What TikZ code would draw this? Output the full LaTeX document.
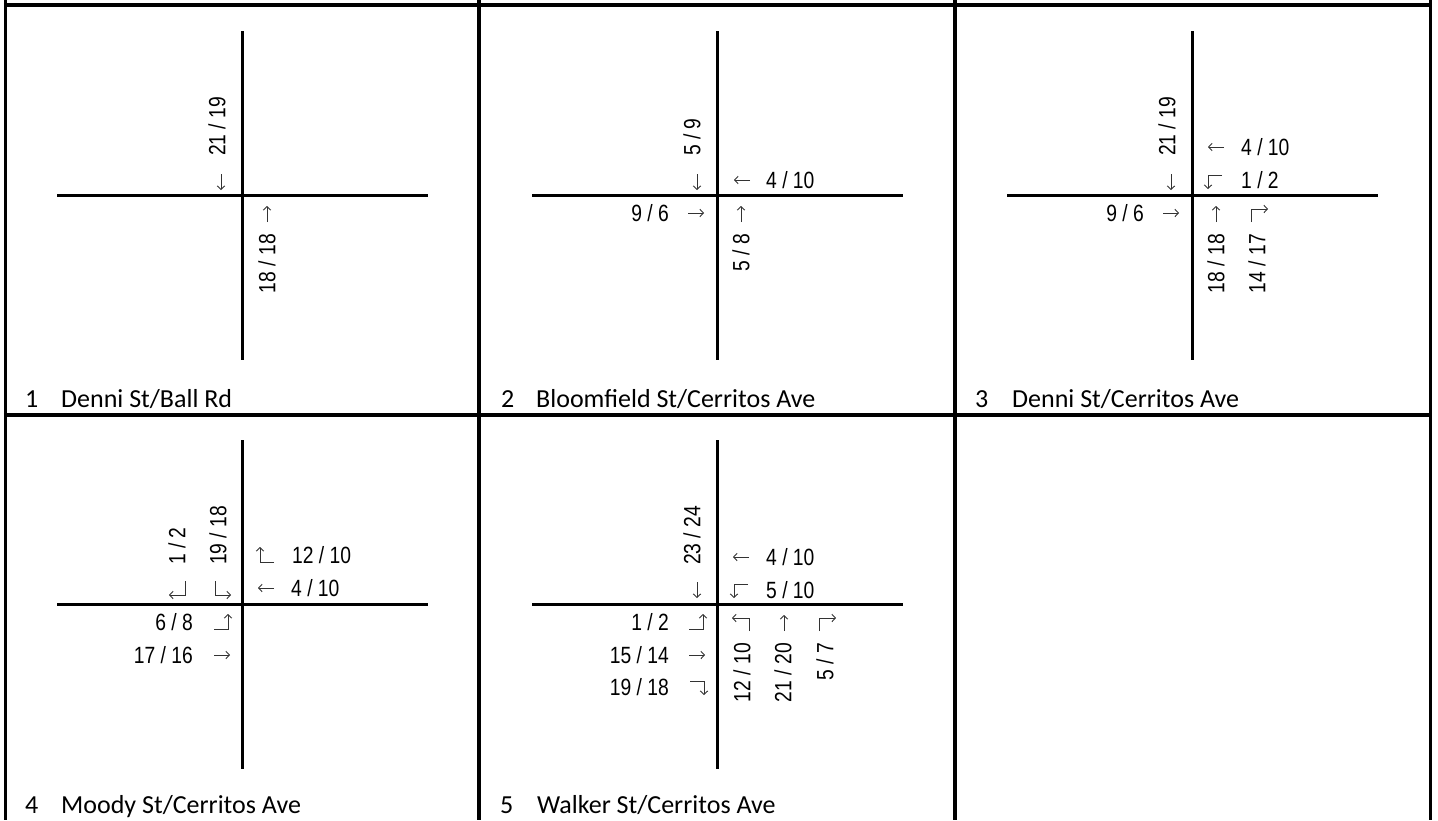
\documentclass[tikz,border=0pt]{standalone}
\usepackage{fontspec}
\usetikzlibrary{arrows.meta}
\newfontfamily\labf[FakeStretch=0.82]{Liberation Sans}
\newfontfamily\capf{Carlito}
\begin{document}
\begin{tikzpicture}[x=1pt,y=-1pt,
  lbl/.style={font=\labf\fontsize{23.5}{28}\selectfont, inner sep=0pt},
  sb/.style={lbl, rotate=90, anchor=west},
  nb/.style={lbl, rotate=90, anchor=east},
  el/.style={lbl, anchor=west},
  wl/.style={lbl, anchor=east},
  road/.style={line width=3pt},
  gridline/.style={line width=3.5pt},
  capn/.style={font=\capf\fontsize{26}{30}\selectfont, inner sep=0pt, anchor=base west},
  arrowline/.style={line width=0.9pt, draw=black!80, -{Straight Barb[length=3.5pt,width=7.5pt]}},
  goW/.pic={\draw[arrowline] (8,0) -- (-8,0);},
  goE/.pic={\draw[arrowline] (-8,0) -- (8,0);},
  goN/.pic={\draw[arrowline] (0,8) -- (0,-8);},
  goS/.pic={\draw[arrowline] (0,-8) -- (0,8);},
  goNR/.pic={\draw[arrowline] (-8,8) -- (-8,-5) -- (9,-5);},
  goNL/.pic={\draw[arrowline] (8,8) -- (8,-5) -- (-9,-5);},
  goSR/.pic={\draw[arrowline] (7,-8) -- (7,6) -- (-9,6);},
  goSL/.pic={\draw[arrowline] (-7,-8) -- (-7,6) -- (9,6);},
  goWL/.pic={\draw[arrowline] (8,-6) -- (-6,-6) -- (-6,8);},
  goWR/.pic={\draw[arrowline] (8,7) -- (-6,7) -- (-6,-8);},
  goEL/.pic={\draw[arrowline] (-8,7) -- (6,7) -- (6,-8);},
  goER/.pic={\draw[arrowline] (-8,-6) -- (6,-6) -- (6,8);}]
\useasboundingbox (0,0) rectangle (1438,820);
% frame
\draw[gridline] (5.5,0) -- (5.5,820);
\draw[gridline] (479,0) -- (479,820);
\draw[gridline] (955,0) -- (955,820);
\draw[gridline] (1430.5,0) -- (1430.5,820);
\draw[gridline] (3.75,5) -- (1432.25,5);
\draw[gridline] (3.75,415) -- (1432.25,415);
% captions
\node[capn] (k1) at (25,407) {1};
\node[capn] (t1) at (61,407) {Denni St/Ball Rd};
\node[capn] (k2) at (501,407) {2};
\node[capn] (t2) at (536,407) {Bloomfield St/Cerritos Ave};
\node[capn] (k3) at (975,407) {3};
\node[capn] (t3) at (1012,407) {Denni St/Cerritos Ave};
\node[capn] (k4) at (25,813.5) {4};
\node[capn] (t4) at (61,813.5) {Moody St/Cerritos Ave};
\node[capn] (k5) at (500,813.5) {5};
\node[capn] (t5) at (537,813.5) {Walker St/Cerritos Ave};
% cell 1
\begin{scope}[shift={(242,195)}]
\draw[road] (-185,0) -- (186,0);
\draw[road] (0,-164) -- (0,165);
\pic (a1s) at (-21,-13) {goS};
\node[sb] (l1s) at (-25,-39) {21 / 19};
\pic (a1n) at (25,19) {goN};
\node[nb] (l1n) at (25,39) {18 / 18};
\end{scope}
% cell 2
\begin{scope}[shift={(717,195)}]
\draw[road] (-185,0) -- (186,0);
\draw[road] (0,-164) -- (0,165);
\pic (a2s) at (-20,-13) {goS};
\node[sb] (l2s) at (-25,-39) {5 / 9};
\pic (a2w) at (25,-15) {goW};
\node[el] (l2w) at (49,-15) {4 / 10};
\node[wl] (l2e) at (-48,18) {9 / 6};
\pic (a2e) at (-21,18) {goE};
\pic (a2n) at (24,19) {goN};
\node[nb] (l2n) at (24,39) {5 / 8};
\end{scope}
% cell 3
\begin{scope}[shift={(1192,195)}]
\draw[road] (-185,0) -- (186,0);
\draw[road] (0,-164) -- (0,165);
\pic (a3s) at (-21,-13) {goS};
\node[sb] (l3s) at (-25,-39) {21 / 19};
\pic (a3w) at (24,-48) {goW};
\node[el] (l3w) at (49,-48) {4 / 10};
\pic (a3wl) at (22,-14) {goWL};
\node[el] (l3wl) at (49,-15) {1 / 2};
\node[wl] (l3e) at (-48,18) {9 / 6};
\pic (a3e) at (-21,18) {goE};
\pic (a3n) at (24,19) {goN};
\node[nb] (l3n) at (24,39) {18 / 18};
\pic (a3nr) at (67,19) {goNR};
\node[nb] (l3nr) at (65,39) {14 / 17};
\end{scope}
% cell 4
\begin{scope}[shift={(242,604)}]
\draw[road] (-185,0) -- (186,0);
\draw[road] (0,-164) -- (0,165);
\pic (a4sr) at (-64,-15) {goSR};
\node[sb] (l4sr) at (-65,-39) {1 / 2};
\pic (a4sl) at (-20,-15) {goSL};
\node[sb] (l4sl) at (-24,-39) {19 / 18};
\pic (a4wr) at (24,-49) {goWR};
\node[el] (l4wr) at (50,-49) {12 / 10};
\pic (a4w) at (24,-16) {goW};
\node[el] (l4w) at (49,-16) {4 / 10};
\node[wl] (l4el) at (-49,18) {6 / 8};
\pic (a4el) at (-20,18) {goEL};
\node[wl] (l4e) at (-49,51) {17 / 16};
\pic (a4e) at (-20,51) {goE};
\end{scope}
% cell 5
\begin{scope}[shift={(717,604)}]
\draw[road] (-185,0) -- (186,0);
\draw[road] (0,-164) -- (0,165);
\node[sb] (l5s) at (-25,-39) {23 / 24};
\pic (a5s) at (-20,-14) {goS};
\pic (a5w) at (24,-47) {goW};
\node[el] (l5w) at (49,-47) {4 / 10};
\pic (a5wl) at (23,-14) {goWL};
\node[el] (l5wl) at (49,-14) {5 / 10};
\node[wl] (l5el) at (-48,18) {1 / 2};
\pic (a5el) at (-20,18) {goEL};
\node[wl] (l5e) at (-48,51) {15 / 14};
\pic (a5e) at (-20,51) {goE};
\node[wl] (l5er) at (-48,83) {19 / 18};
\pic (a5er) at (-19,83) {goER};
\pic (a5nl) at (24,19) {goNL};
\node[nb] (l5nl) at (25,39) {12 / 10};
\pic (a5n) at (67,19) {goN};
\node[nb] (l5n) at (66,39) {21 / 20};
\pic (a5nr) at (110,19) {goNR};
\node[nb] (l5nr) at (108,39) {5 / 7};
\end{scope}
\end{tikzpicture}
\end{document}
